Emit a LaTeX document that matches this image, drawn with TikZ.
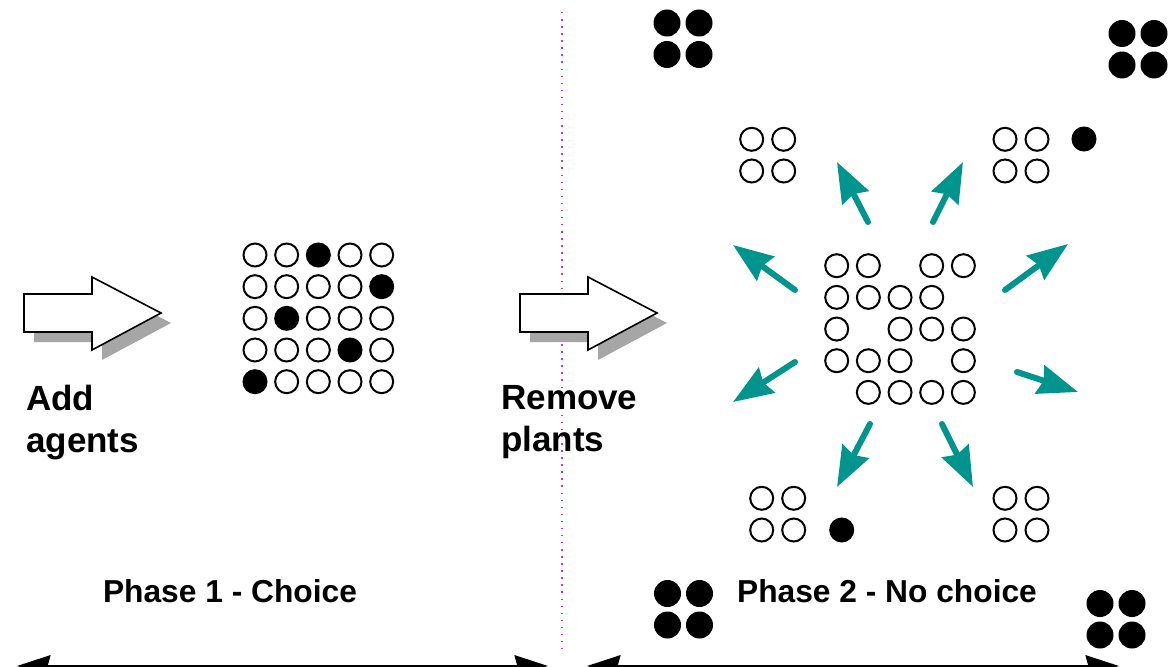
\documentclass[tikz,border=0pt]{standalone}
\usepackage{fontspec}
\setmainfont{Liberation Sans}
\usetikzlibrary{arrows.meta, shadows}
\definecolor{arrowteal}{HTML}{00948F}
\definecolor{divider}{HTML}{CC33CC}
\tikzset{x=0.75pt, y=-0.75pt,
	plant/.style={circle, draw, line width=1.5pt, minimum size=17.25pt, inner sep=0pt},
	agent/.style={circle, draw, fill=black, line width=1.5pt, minimum size=17.25pt, inner sep=0pt},
	herd/.style={circle, fill=black, minimum size=20.25pt, inner sep=0pt},
	spread/.style={arrowteal, line width=4.5pt, line cap=round, -{Stealth[length=30pt, width=22pt, inset=3pt]}},
	span/.style={line width=2.25pt, {Stealth[length=25pt, width=16pt, inset=2pt]}-{Stealth[length=25pt, width=16pt, inset=2pt]}},
	bigarrow/.style={draw, line width=1.2pt, fill=white, drop shadow={shadow xshift=7.5pt, shadow yshift=-7.5pt, fill=black!35, opacity=1}},
	action/.style={font=\bfseries\fontsize{26.25}{31.5}\selectfont, align=left, inner sep=0pt},
	phase/.style={font=\bfseries\fontsize{23.8}{28}\selectfont, inner sep=0pt}}

\begin{document}
\begin{tikzpicture}
	\useasboundingbox (0,0) rectangle (1168,667);
	% divider between the two phases
	\draw[divider, line width=1.1pt, dash pattern=on 1.1pt off 4.2pt] (562,12) -- (562,650);

	% block arrows
	\foreach \dx in {0,496}
		\draw[bigarrow, shift={(\dx,0)}] (24,294) -- (92,294) -- (92,277) -- (161,313) -- (92,350) -- (92,332) -- (24,332) -- cycle;
	\node[action, anchor=north west] (add) at (26,385) {Add\\agents};
	\node[action, anchor=north west] (remove) at (501,385) {Remove\\plants};

	% phase 1: grid with agents
	\foreach \r/\k in {0/2, 1/4, 2/1, 3/3, 4/0}
		\foreach \c in {0,...,4} {
			\ifnum\c=\k
				\node[agent] (g-\r-\c) at ({255+31.67*\c},{255+31.67*\r}) {};
			\else
				\node[plant] (g-\r-\c) at ({255+31.67*\c},{255+31.67*\r}) {};
			\fi
		}

	% phase 2: remaining plants
	\foreach \r/\cols in {0/{0,1,3,4}, 1/{0,1,2,3}, 2/{0,2,3,4}, 3/{0,1,2,4}, 4/{1,2,3,4}}
		\foreach \c in \cols
			\node[plant] (m-\r-\c) at ({836.7+31.67*\c},{265.7+31.67*\r}) {};
	\foreach \gx/\gy/\nm in {751.7/139.3/nw, 1005/139.3/ne, 761.7/498.3/sw, 1005/498.3/se}
		\foreach \i in {0,1}
			\foreach \j in {0,1}
				\node[plant] (\nm-\i\j) at ({\gx+32*\i},{\gy+31.7*\j}) {};
	\node[agent] (stray-ne) at (1084,139) {};
	\node[agent] (stray-sw) at (841.7,530) {};

	% agent groups in the corners
	\foreach \gx/\gy/\nm in {667/23/ha, 1122/33.5/hb, 667.5/593.5/hc, 1100/603.5/hd}
		\foreach \i in {0,1}
			\foreach \j in {0,1}
				\node[herd] (\nm-\i\j) at ({\gx+32*\i},{\gy+31.5*\j}) {};

	% dispersal arrows
	\foreach \sx/\sy/\ex/\ey [count=\n] in {868/222/837/162, 933/222/963/162, 795/290/733/245, 1005/290/1068/244,
			795/362/733/402, 1017/372/1078/392, 870/424/837/487, 942/424/973/487} {
		\coordinate (from-\n) at (\sx,\sy);
		\coordinate (to-\n) at (\ex,\ey);
		\draw[spread] (from-\n) -- (to-\n);
	}

	% phase labels and time spans
	\node[phase, anchor=base] (p1) at (230,602) {Phase 1 - Choice};
	\node[phase, anchor=base] (p2) at (887,602) {Phase 2 - No choice};
	\coordinate (p1-start) at (17,666);
	\coordinate (p1-end) at (548,666);
	\coordinate (p2-start) at (587,666);
	\coordinate (p2-end) at (1119,666);
	\draw[span] (p1-start) -- (p1-end);
	\draw[span] (p2-start) -- (p2-end);
\end{tikzpicture}
\end{document}
